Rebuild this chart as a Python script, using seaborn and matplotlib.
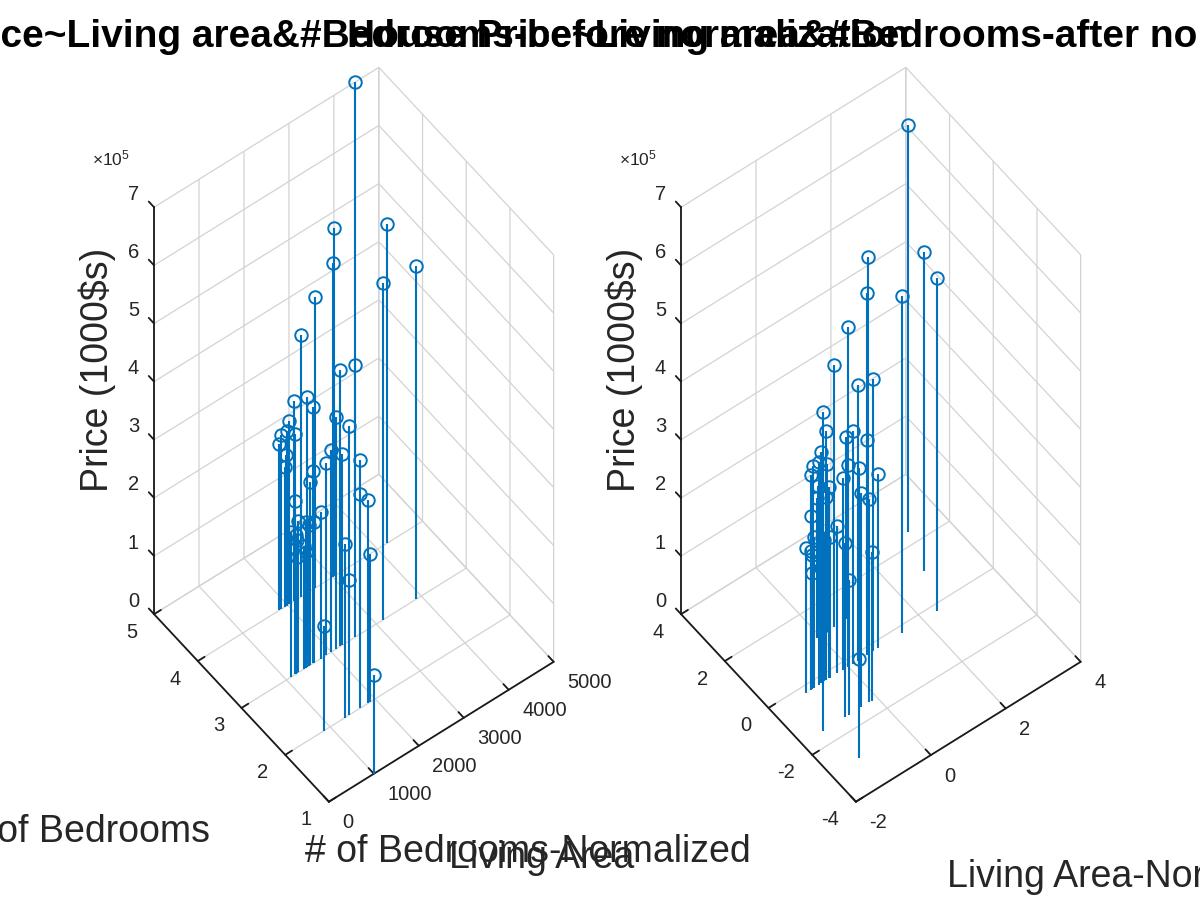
import numpy as np
import pandas as pd
import matplotlib
matplotlib.use("Agg")
import matplotlib.pyplot as plt
import seaborn as sns
from mpl_toolkits.mplot3d import proj3d

# ---------------- data (house prices) ----------------
living_area = [2104, 1600, 2400, 1416, 3000, 1985, 1534, 1427, 1380, 1494, 1940, 2000,
               1890, 4478, 1268, 2300, 1320, 1236, 2609, 3031, 1767, 1888, 1604, 1962,
               3890, 1100, 1458, 2526, 2200, 2637, 1839, 1000, 2040, 3137, 1811, 1437,
               1239, 2132, 4215, 2162, 1664, 2238, 2567, 1200, 852, 1852, 1203]
bedrooms = [3, 3, 3, 2, 4, 4, 3, 3, 3, 3, 4, 3,
            3, 5, 3, 4, 2, 3, 4, 4, 3, 2, 3, 4,
            3, 3, 3, 3, 3, 3, 2, 1, 4, 3, 4, 3,
            3, 4, 4, 4, 2, 3, 4, 3, 2, 4, 3]
price = [399900, 329900, 369000, 232000, 539900, 299900, 314900, 198999, 212000, 242500,
         239999, 347000, 329999, 699900, 259900, 449900, 299900, 199900, 499998, 599000,
         252900, 255000, 242900, 259900, 573900, 249900, 464500, 469000, 475000, 299900,
         349900, 169900, 314900, 579900, 285900, 249900, 229900, 345000, 549000, 287000,
         368500, 329900, 314000, 299000, 179900, 299900, 239500]

area_ticks = [0, 1000, 2000, 3000, 4000, 5000]
bed_ticks = [1, 2, 3, 4, 5]
area_norm_ticks = [-2, 0, 2, 4]
bed_norm_ticks = [-4, -2, 0, 2, 4]
price_ticks = [0, 100000, 200000, 300000, 400000, 500000, 600000, 700000]
price_tick_labels = ["0", "1", "2", "3", "4", "5", "6", "7"]

title_left = "House Price~Living area&#Bedrooms-before normalization"
title_right = "House Price~Living area&#Bedrooms-after normalization"

# ---------------- style ----------------
sns.set_theme(style="white")
plt.rcParams["font.family"] = ["Liberation Sans", "DejaVu Sans"]
plt.rcParams["axes.unicode_minus"] = False
plt.rcParams["mathtext.fontset"] = "custom"
plt.rcParams["mathtext.rm"] = "Liberation Sans"
plt.rcParams["grid.color"] = "#d3d3d3"
plt.rcParams["grid.linewidth"] = 0.9
plt.rcParams["grid.linestyle"] = "-"

df = pd.DataFrame({"area": living_area, "bedrooms": bedrooms, "price": price})
df["area_n"] = (df["area"] - df["area"].mean()) / df["area"].std()
df["bed_n"] = (df["bedrooms"] - df["bedrooms"].mean()) / df["bedrooms"].std()

blue = sns.color_palette(["#0072BD"])[0]
TXT = "#262626"
W, H = 1200, 900
fig = plt.figure(figsize=(12, 9), dpi=100)

ELEV, AZIM = 54.8, -127.3
BOX = (282.8, 288.8, 706.6)
ZMAX = 700000
TICK_FS = 14.5


def make_axes(xcol, ycol, xlim, ylim, xticks, yticks, t_front, t_top):
    ax = fig.add_axes([0.1, 0.1, 0.5, 0.5 * W / H], projection="3d")
    ax.set_proj_type("ortho")
    ax.view_init(elev=ELEV, azim=AZIM)
    ax.set_box_aspect(BOX)
    ax.patch.set_alpha(0)
    ax.set_facecolor((1, 1, 1, 0))

    ml, sl, bl = ax.stem(df[xcol], df[ycol], df["price"], bottom=0)
    bl.set_visible(False)
    sl.set_color(blue)
    sl.set_linewidth(1.5)
    ml.set_color(blue)
    ml.set_marker("o")
    ml.set_markerfacecolor("none")
    ml.set_markeredgecolor(blue)
    ml.set_markersize(9)
    ml.set_markeredgewidth(1.4)
    ml.set_linestyle("none")

    ax.set_xlim(*xlim)
    ax.set_ylim(*ylim)
    ax.set_zlim(0, ZMAX)
    ax.set_xticks(xticks)
    ax.set_yticks(yticks)
    ax.set_zticks(price_ticks)
    ax.set_xticklabels([])
    ax.set_yticklabels([])
    ax.set_zticklabels([])
    ax.tick_params(axis="both", colors="#1a1a1a")
    for a in (ax.xaxis, ax.yaxis, ax.zaxis):
        a.set_pane_color((1, 1, 1, 0))
        a.pane.set_edgecolor("#d3d3d3")
        a.line.set_color("#1a1a1a")
        a.line.set_linewidth(1.3)
        a.label.set_visible(False)
        a._axinfo["tick"]["inward_factor"] = 0.0
        a._axinfo["tick"]["outward_factor"] = 0.38
        a._axinfo["tick"]["linewidth"] = {True: 1.3, False: 0.8}
    # MATLAB draws the z ticks along the y direction
    ax.zaxis._get_tickdir = lambda *a, **k: 1

    # tick labels placed the way MATLAB places them (offsets as fractions of the ranges)
    xr = xlim[1] - xlim[0]
    yr = ylim[1] - ylim[0]
    for t in xticks:
        ax.text(t, ylim[0] - 0.077 * yr, -0.016 * ZMAX, f"{t:g}", ha="left", va="center",
                fontsize=TICK_FS, color=TXT)
    for t in yticks:
        ax.text(xlim[0] - 0.0756 * xr, t, -0.0182 * ZMAX, f"{t:g}", ha="right", va="center",
                fontsize=TICK_FS, color=TXT)
    for t, lab in zip(price_ticks, price_tick_labels):
        ax.text(xlim[0] - 0.0082 * xr, ylim[1] + 0.0752 * yr, t, lab, ha="right", va="center",
                fontsize=TICK_FS, color=TXT)

    # calibrate axes placement so the box corners land where the reference has them
    fig.canvas.draw()

    def to_axfrac(pt):
        xs, ys, _ = proj3d.proj_transform(*pt, ax.get_proj())
        p = ax.transData.transform((xs, ys))
        return ax.transAxes.inverted().transform(p)

    u1 = to_axfrac((xlim[0], ylim[0], 0))
    u2 = to_axfrac((xlim[0], ylim[1], ZMAX))
    t1 = np.array([t_front[0], H - t_front[1]], float)
    t2 = np.array([t_top[0], H - t_top[1]], float)
    L = np.linalg.norm(t2 - t1) / np.linalg.norm(u2 - u1)
    o = 0.5 * ((t1 - L * u1) + (t2 - L * u2))
    ax.set_position([o[0] / W, o[1] / H, L / W, L / H])
    return ax


ax1 = make_axes("area", "bedrooms", (0, 5000), (1, 5), area_ticks, bed_ticks,
                (328, 802), (155, 207))
ax2 = make_axes("area_n", "bed_n", (-2, 4), (-4, 4), area_norm_ticks, bed_norm_ticks,
                (855, 802), (682, 207))


def ftext(x, y, s, **kw):
    fig.text(x / W, 1 - y / H, s, **kw)


# titles (overlapping as in the reference)
ftext(-181, 47, title_left, ha="left", va="baseline", fontsize=28, fontweight="bold", color="black")
ftext(347, 47, title_right, ha="left", va="baseline", fontsize=28, fontweight="bold", color="black")

# axis labels
for dx in (0, 527):
    ftext(97 + dx, 370, r"Price (1000\$s)", ha="center", va="center", rotation=90,
          fontsize=27, color=TXT)
    ftext(92 + dx, 158, r"$\mathregular{\times10^{5}}$", ha="left", va="center",
          fontsize=12.5, color=TXT)
ftext(88, 832, "# of Bedrooms", ha="center", va="center", fontsize=27, color=TXT)
ftext(542, 858, "Living Area", ha="center", va="center", fontsize=27, color=TXT)
ftext(528, 852, "# of Bedrooms-Normalized", ha="center", va="center", fontsize=27, color=TXT)
ftext(947, 877, "Living Area-Normalized", ha="left", va="center", fontsize=27, color=TXT)

fig.savefig("out.png", dpi=100)
